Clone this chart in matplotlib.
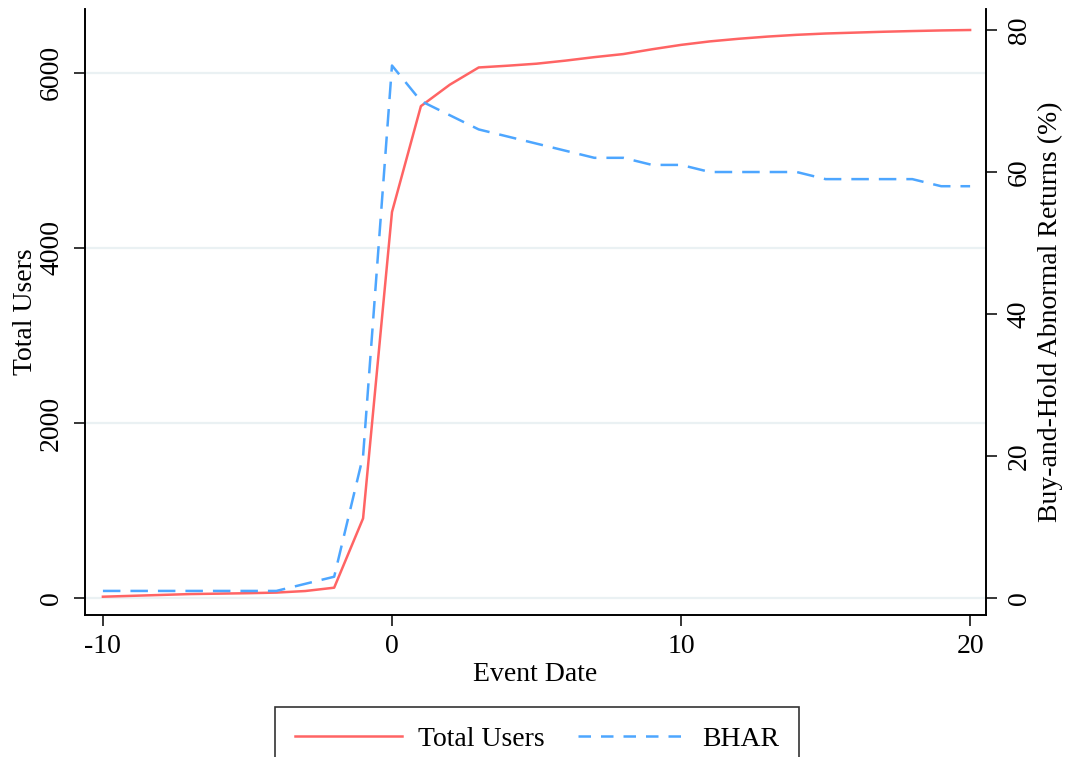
import matplotlib
matplotlib.use("Agg")
import matplotlib.pyplot as plt
from matplotlib.lines import Line2D

plt.rcParams['font.family'] = ['Liberation Serif', 'DejaVu Serif']

event_date = list(range(-10, 21))
total_users = [15, 25, 35, 45, 50, 55, 62, 80, 118, 910, 4410,
               5620, 5865, 6062, 6082, 6105, 6140, 6180, 6215, 6270, 6320,
               6360, 6390, 6415, 6435, 6450, 6460, 6470, 6478, 6485, 6490]
bhar = [1, 1, 1, 1, 1, 1, 1, 2, 3, 20, 75,
        70, 68, 66, 65, 64, 63, 62, 62, 61, 61,
        60, 60, 60, 60, 59, 59, 59, 59, 58, 58]

left_ticks = [0, 2000, 4000, 6000]
right_ticks = [0, 20, 40, 60, 80]
x_ticks = [-10, 0, 10, 20]

red = '#FF6464'
blue = '#4DA6FF'
grid_c = '#EAF1F3'
fs = 20

fig = plt.figure(figsize=(10.65, 7.57), dpi=100)
ax = fig.add_axes([85/1065, 1-615/757, (986-85)/1065, (615-9)/757])
ax2 = ax.twinx()

ax.set_xlim(-10.62, 20.55)
ax.set_ylim(-194, 6730)
ax2.set_ylim(-2.39, 82.96)

for t in left_ticks:
    ax.axhline(t, color=grid_c, lw=1.6, zorder=0)

l1, = ax.plot(event_date, total_users, color=red, lw=1.8, zorder=3)
l2, = ax2.plot(event_date, bhar, color=blue, lw=1.8, dashes=(7, 4), zorder=3)

ax.set_xticks(x_ticks)
ax.set_xticklabels([str(v) for v in x_ticks])
ax.set_yticks(left_ticks)
ax.set_yticklabels([str(v) for v in left_ticks], rotation=90, va='center')
ax2.set_yticks(right_ticks)
ax2.set_yticklabels([str(v) for v in right_ticks], rotation=90, va='center')

for a in (ax, ax2):
    a.tick_params(length=8, width=1.1, labelsize=fs, pad=8, colors='black')
    a.spines['top'].set_visible(False)
    for s in a.spines.values():
        s.set_linewidth(1.2)
ax.tick_params(axis='y', pad=7)
ax2.tick_params(axis='y', pad=7)
ax.tick_params(axis='x', pad=6)

ax.set_xlabel('Event Date', fontsize=fs, labelpad=2)
ax.set_ylabel('Total Users', fontsize=fs, labelpad=1)
ax2.set_ylabel('Buy-and-Hold Abnormal Returns (%)', fontsize=fs, labelpad=4)

h1 = Line2D([], [], color=red, lw=1.8)
h2 = Line2D([], [], color=blue, lw=1.8, dashes=(5, 4))
leg = fig.legend([h1, h2], ['Total Users', 'BHAR'], loc='upper center',
                 bbox_to_anchor=(537/1065, 1-707/757), ncol=2, fontsize=fs,
                 frameon=True, fancybox=False, edgecolor='black',
                 handlelength=3.85, handletextpad=0.6, columnspacing=1.2,
                 borderpad=0.7, borderaxespad=0)
leg.get_frame().set_linewidth(1.2)

fig.savefig('out.png', dpi=100, facecolor='white')
